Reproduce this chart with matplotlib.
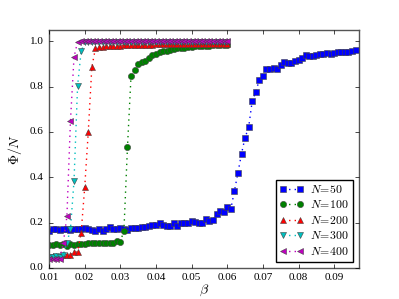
import matplotlib
matplotlib.use("Agg")
import matplotlib.pyplot as plt

plt.style.use("classic")
plt.rcParams["font.family"] = "serif"
plt.rcParams["font.serif"] = ["Liberation Serif", "DejaVu Serif"]
plt.rcParams["mathtext.fontset"] = "cm"

# beta values: N=50 goes further to the right than the others
beta_50 = [round(0.010 + 0.001 * i, 3) for i in range(87)]
beta_rest = [round(0.010 + 0.001 * i, 3) for i in range(51)]

phi_50 = [
    0.163, 0.172, 0.170, 0.166, 0.172, 0.170, 0.168, 0.172, 0.170, 0.172,
    0.174, 0.172, 0.168, 0.162, 0.172, 0.164, 0.170, 0.180, 0.172, 0.172,
    0.176, 0.172, 0.166, 0.174, 0.176, 0.178, 0.182, 0.180, 0.186, 0.190,
    0.190, 0.197, 0.190, 0.187, 0.187, 0.197, 0.185, 0.200, 0.197, 0.196,
    0.207, 0.203, 0.199, 0.197, 0.215, 0.209, 0.213, 0.236, 0.249, 0.245,
    0.268, 0.260, 0.338, 0.420, 0.504, 0.575, 0.620, 0.736, 0.776, 0.830,
    0.845, 0.876, 0.876, 0.881, 0.878, 0.897, 0.908, 0.905, 0.904, 0.914,
    0.917, 0.927, 0.938, 0.933, 0.933, 0.941, 0.944, 0.944, 0.948, 0.945,
    0.950, 0.951, 0.951, 0.953, 0.953, 0.957, 0.960,
]

phi_100 = [
    0.102, 0.102, 0.104, 0.100, 0.104, 0.098, 0.104, 0.102, 0.104, 0.104,
    0.106, 0.108, 0.108, 0.108, 0.110, 0.108, 0.110, 0.108, 0.110, 0.117,
    0.115, 0.165, 0.533, 0.848, 0.871, 0.899, 0.910, 0.913, 0.925, 0.939,
    0.944, 0.953, 0.957, 0.958, 0.961, 0.966, 0.968, 0.970, 0.972, 0.974,
    0.976, 0.977, 0.978, 0.979, 0.980, 0.981, 0.982, 0.983, 0.984, 0.984,
    0.985,
]

phi_200 = [
    0.050, 0.052, 0.053, 0.052, 0.055, 0.058, 0.058, 0.070, 0.070, 0.156,
    0.356, 0.600, 0.886, 0.968, 0.973, 0.975, 0.977, 0.978, 0.979, 0.980,
    0.981, 0.982, 0.982, 0.983, 0.983, 0.984, 0.984, 0.985, 0.985, 0.985,
    0.986, 0.986, 0.986, 0.986, 0.987, 0.987, 0.987, 0.987, 0.987, 0.988,
    0.988, 0.988, 0.988, 0.988, 0.988, 0.989, 0.989, 0.989, 0.989, 0.989,
    0.989,
]

phi_300 = [
    0.050, 0.050, 0.052, 0.050, 0.058, 0.111, 0.170, 0.385, 0.803, 0.956,
    0.995, 0.996, 0.996, 0.997, 0.997, 0.997, 0.997, 0.998, 0.998, 0.998,
    0.998, 0.998, 0.998, 0.998, 0.998, 0.998, 0.998, 0.998, 0.998, 0.998,
    0.998, 0.998, 0.998, 0.998, 0.998, 0.998, 0.998, 0.998, 0.998, 0.998,
    0.998, 0.998, 0.998, 0.998, 0.998, 0.998, 0.998, 0.998, 0.998, 0.998,
    0.998,
]

phi_400 = [
    0.040, 0.038, 0.040, 0.040, 0.111, 0.227, 0.649, 0.930, 0.998, 0.999,
    0.999, 0.999, 0.999, 0.999, 0.999, 0.999, 0.999, 0.999, 0.999, 0.999,
    0.999, 0.999, 0.999, 0.999, 0.999, 0.999, 0.999, 0.999, 0.999, 0.999,
    0.999, 0.999, 0.999, 0.999, 0.999, 0.999, 0.999, 0.999, 0.999, 0.999,
    0.999, 0.999, 0.999, 0.999, 0.999, 0.999, 0.999, 0.999, 0.999, 0.999,
    0.999,
]

series = [
    (beta_50, phi_50, "b", "s", "$N\\!=\\!50$"),
    (beta_rest, phi_100, "g", "o", "$N\\!=\\!100$"),
    (beta_rest, phi_200, "r", "^", "$N\\!=\\!200$"),
    (beta_rest, phi_300, "c", "v", "$N\\!=\\!300$"),
    (beta_rest, phi_400, "m", "<", "$N\\!=\\!400$"),
]

fig = plt.figure(figsize=(3.99, 2.99), dpi=100, facecolor="white")
ax = fig.add_axes([0.123, 0.104, 0.777, 0.796])

for x, y, color, marker, label in series:
    ax.plot(x, y, linestyle=":", color=color, marker=marker, markersize=4.5,
            markeredgecolor="#444444", markeredgewidth=0.4, linewidth=1,
            label=label)

ax.set_xlim(0.01, 0.097)
ax.set_ylim(0.0, 1.05)
ax.set_xticks([0.01, 0.02, 0.03, 0.04, 0.05, 0.06, 0.07, 0.08, 0.09])
ax.set_yticks([0.0, 0.2, 0.4, 0.6, 0.8, 1.0])
ax.tick_params(labelsize=8, length=3, direction="in", top=True, right=True)
for spine in ax.spines.values():
    spine.set_color("#555555")

ax.set_xlabel("$\\beta$", fontsize=10, labelpad=0)
ax.set_ylabel("$\\Phi/N$", fontsize=10, labelpad=4)

leg = ax.legend(loc="lower right", numpoints=2, fontsize=8.5, frameon=True,
                fancybox=False, handlelength=2.0, handletextpad=0.6,
                borderpad=0.35, labelspacing=0.3, borderaxespad=0.5)
leg.get_frame().set_edgecolor("black")

fig.savefig("out.png", dpi=100, facecolor="white")
